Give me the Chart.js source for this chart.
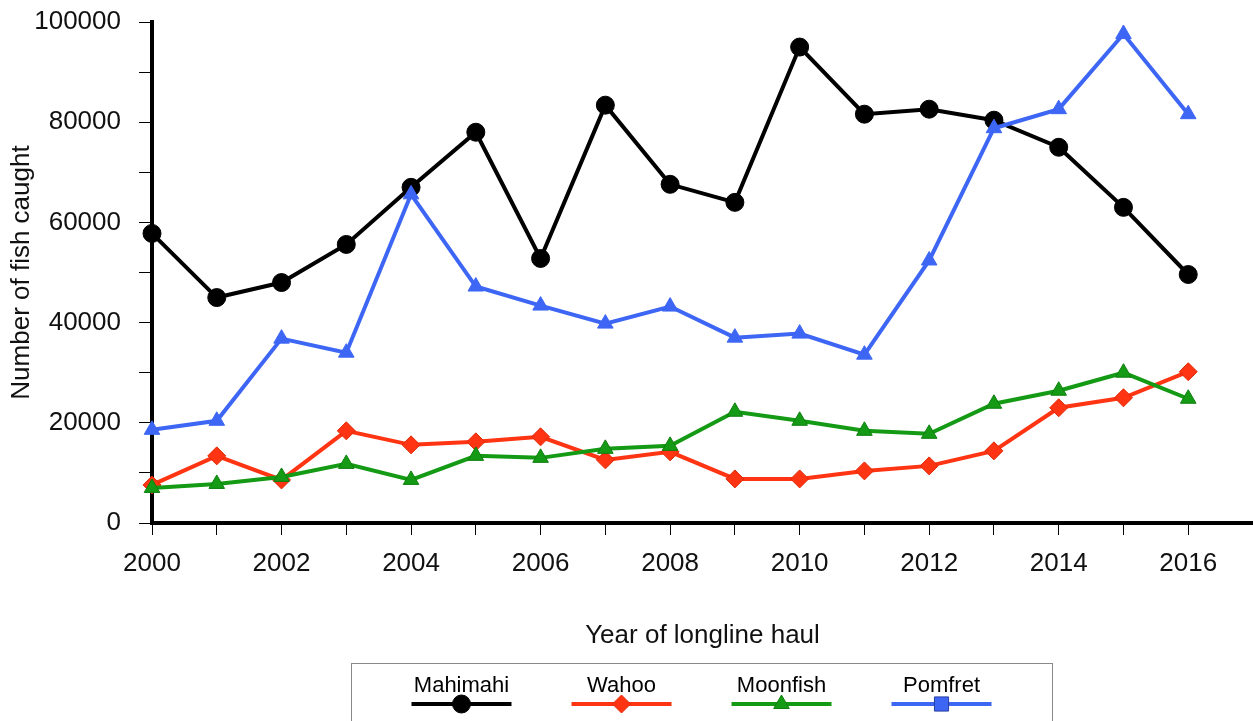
<!DOCTYPE html>
<html><head><meta charset="utf-8">
<script src="https://cdn.jsdelivr.net/npm/chart.js@4.4.1/dist/chart.umd.min.js"></script>
<style>html,body{margin:0;padding:0;background:#fff}#wrap{width:1253px;height:721px;position:relative}canvas{display:block}</style>
</head><body><div id="wrap"><canvas id="c" width="1253" height="721"></canvas></div>
<script>
const years = [2000,2001,2002,2003,2004,2005,2006,2007,2008,2009,2010,2011,2012,2013,2014,2015,2016];
const mahimahi = [57800,45000,48000,55600,67000,78000,52800,83400,67600,64000,95000,81600,82600,80400,75000,63000,49600];
const wahoo    = [7600,13400,8600,18400,15600,16200,17200,12600,14200,8800,8800,10400,11400,14400,23000,25000,30200];
const moonfish = [7000,7800,9200,11800,8600,13400,13000,14800,15400,22200,20400,18400,17800,23800,26400,30000,24800];
const pomfret  = [18600,20400,36800,34000,65600,47200,43400,39800,43200,37000,37800,33600,52400,78800,82600,97600,81600];
const xTickLabels = ['2000','2002','2004','2006','2008','2010','2012','2014','2016'];
const yTickLabels = ['0','20000','40000','60000','80000','100000'];
const seriesNames = ['Mahimahi','Wahoo','Moonfish','Pomfret'];

const FONT = "'Liberation Sans', Arial, Helvetica, sans-serif";
const pts = arr => years.map((y,i)=>({x:y,y:arr[i]}));

function ds(label, data, color, border, style, radius, order, legendStyle){
  return {label, data: pts(data), borderColor: color, backgroundColor: color,
    pointBackgroundColor: color, pointBorderColor: border, pointBorderWidth: 1,
    pointStyle: style, pointRadius: radius, pointHoverRadius: radius,
    borderWidth: 4, tension: 0, clip: false, order, legendStyle};
}

const datasets = [
  ds(seriesNames[0], mahimahi, '#000000', '#000000', 'circle', 9, 4, 'circle'),
  ds(seriesNames[1], wahoo, '#ff3412', '#e02a08', 'rectRot', 9, 3, 'rectRot'),
  ds(seriesNames[2], moonfish, '#149a14', '#0f7f0f', 'triangle', 9, 2, 'triangle'),
  ds(seriesNames[3], pomfret, '#3d66f5', '#3d66f5', 'triangle', 9, 1, 'rect')
];

const legendPlugin = {
  id: 'boxLegend',
  afterDraw(chart){
    const ctx = chart.ctx;
    ctx.save();
    const bx = 351, by = 663, bw = 701, bh = 70;
    ctx.strokeStyle = '#888'; ctx.lineWidth = 1;
    ctx.strokeRect(bx+0.5, by+0.5, bw, bh);
    const cxs = [-240,-80,80,240].map(d => bx + bw/2 + d);
    const list = chart.data.datasets;
    list.forEach((d,i)=>{
      const cx = cxs[i];
      ctx.fillStyle = '#000';
      ctx.font = "22px " + FONT;
      ctx.textAlign = 'center'; ctx.textBaseline = 'middle';
      ctx.fillText(d.label, cx, 686);
      ctx.strokeStyle = d.borderColor; ctx.lineWidth = 4;
      ctx.beginPath(); ctx.moveTo(cx-50, 704); ctx.lineTo(cx+50, 704); ctx.stroke();
      ctx.fillStyle = d.pointBackgroundColor;
      ctx.strokeStyle = i===3 ? '#2a3fa0' : d.pointBorderColor;
      ctx.lineWidth = 1;
      Chart.helpers.drawPoint(ctx, {pointStyle: d.legendStyle, radius: i===3 ? 10 : 9, borderWidth: 1, rotation: 0}, cx, 704);
    });
    ctx.restore();
  }
};

new Chart(document.getElementById('c'), {
  type: 'line',
  data: { datasets },
  options: {
    responsive: false, animation: false,
    layout: { autoPadding: false, padding: { top: 22, right: 0, bottom: 58, left: 0 } },
    plugins: { legend: { display: false }, tooltip: { enabled: false } },
    scales: {
      x: {
        type: 'linear', min: 2000, max: 2017,
        afterFit(s){ s.height = 140; s.paddingLeft = 0; s.paddingRight = 0; },
        border: { display: true, color: '#000', width: 4 },
        grid: { drawOnChartArea: false, drawTicks: true, tickLength: 12, color: '#000', lineWidth: 1 },
        ticks: { stepSize: 1, autoSkip: false, maxRotation: 0, padding: 13, color: '#111',
          font: { family: FONT, size: 26 },
          callback: v => xTickLabels.includes(String(v)) ? String(v) : '' },
        title: { display: true, text: 'Year of longline haul', color: '#111',
          font: { family: FONT, size: 26 }, padding: { top: 12, bottom: 12 } }
      },
      y: {
        min: 0, max: 100000,
        afterFit(s){ s.width = 152; s.paddingTop = 0; s.paddingBottom = 0; },
        border: { display: true, color: '#000', width: 4 },
        grid: { drawOnChartArea: false, drawTicks: true, tickLength: 13, color: '#000', lineWidth: 1 },
        ticks: { stepSize: 10000, autoSkip: false, padding: 18, color: '#111',
          font: { family: FONT, size: 26 },
          callback: v => yTickLabels.includes(String(v)) ? String(v) : '' },
        title: { display: true, text: 'Number of fish caught', color: '#111',
          font: { family: FONT, size: 26 }, padding: { top: 6, bottom: 6 } }
      }
    }
  },
  plugins: [legendPlugin]
});
</script></body></html>
